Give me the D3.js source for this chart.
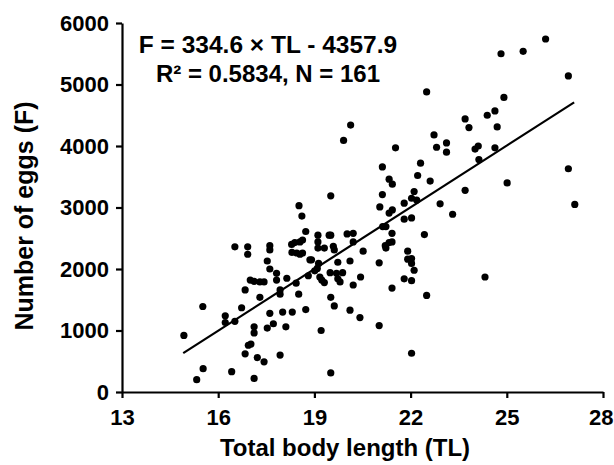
<!DOCTYPE html>
<html>
<head>
<meta charset="utf-8">
<script src="https://cdn.jsdelivr.net/npm/d3@7"></script>
<style>
  html, body { margin: 0; padding: 0; background: #fff; }
  svg text { font-family: "Liberation Sans", Arial, sans-serif; font-weight: bold; fill: #000; }
</style>
</head>
<body>
<svg id="chart" width="614" height="465"></svg>
<script>
// Total body length (TL) of each female
const tl = [
  20.13,19.91,19.51,18.52,
  26.21,25.51,24.82,26.92,22.50,24.91,23.70,23.82,24.39,24.63,24.70,22.73,22.81,23.12,23.12,21.53,
  24.01,24.11,24.63,24.13,26.92,21.12,22.31,21.33,21.43,22.22,22.61,25.01,21.12,22.11,23.70,22.03,
  22.19,21.80,22.92,21.04,21.43,27.12,
  23.31,21.33,21.80,22.03,21.13,21.23,21.42,22.43,21.21,21.23,21.33,21.42,20.52,21.91,21.91,22.03,
  22.03,22.11,21.02,20.44,21.80,22.03,24.32,21.42,22.50,20.42,21.02,22.03,
  18.61,18.73,19.11,19.46,19.51,20.02,20.21,16.52,16.92,16.92,17.61,17.61,18.29,18.39,18.55,18.63,
  18.30,18.45,18.55,18.63,19.11,19.11,19.31,19.59,19.62,20.21,17.53,18.86,18.91,19.13,19.73,20.11,
  17.61,17.82,17.82,18.14,17.00,17.12,17.30,17.43,18.43,18.81,19.01,19.09,19.17,19.23,19.31,19.49,
  19.69,19.88,19.73,19.80,20.21,16.84,17.93,17.93,17.30,18.51,19.51,19.62,20.11,15.52,16.73,16.22,
  16.22,16.52,17.61,18.01,18.31,18.73,17.53,17.72,18.11,17.12,17.12,19.21,14.93,16.94,17.02,16.84,
  17.22,17.43,17.93,15.53,16.42,15.33,17.12,19.51
];
// Number of eggs (F) of each female
const eggs = [
  4340,4090,3190,3030,
  5740,5540,5500,5140,4880,4790,4440,4300,4500,4570,4310,4180,3980,4050,3900,3970,
  3950,4000,3970,3780,3630,3660,3720,3460,3380,3520,3430,3400,3210,3260,3280,3150,
  3120,3070,3060,3010,2960,3050,
  2890,2910,2810,2830,2690,2690,2580,2560,2380,2340,2430,2440,2290,2290,2160,2170,
  2090,1980,2100,1870,1840,1810,1870,1690,1570,1210,1080,630,
  2860,2610,2550,2550,2550,2570,2580,2360,2360,2240,2380,2310,2400,2430,2440,2470,
  2270,2260,2240,2260,2440,2340,2340,2370,2310,2440,2130,2150,2150,2090,2110,2130,
  2000,1930,1820,1850,1820,1800,1790,1790,1770,1890,1970,2010,1870,1820,1780,1940,
  1930,1940,1840,1790,1740,1660,1660,1590,1540,1590,1540,1400,1330,1390,1370,1240,
  1130,1150,1280,1300,1300,1340,1040,1110,1060,1060,960,1000,920,760,780,620,
  560,490,600,380,330,200,220,310
];
const xTicks = [13, 16, 19, 22, 25, 28];
const yTicks = [0, 1000, 2000, 3000, 4000, 5000, 6000];
const slope = 334.6, intercept = -4357.9;
const fitRange = [14.91, 27.1];
const eqLine1 = "F = 334.6 \u00D7 TL - 4357.9";
const eqLine2 = "R\u00B2 = 0.5834, N = 161";
const xTitle = "Total body length (TL)";
const yTitle = "Number of eggs (F)";

const svg = d3.select("#chart");
const x = d3.scaleLinear().domain([13, 28]).range([122, 603]);
const y = d3.scaleLinear().domain([0, 6000]).range([392, 23]);

const xAxis = svg.append("g").attr("transform", "translate(0,392)")
  .call(d3.axisBottom(x).tickValues(xTicks).tickSize(6).tickSizeOuter(0).tickPadding(11).tickFormat(d3.format("d")));
const yAxis = svg.append("g").attr("transform", "translate(122,0)")
  .call(d3.axisLeft(y).tickValues(yTicks).tickSize(6).tickSizeOuter(0).tickPadding(7).tickFormat(d3.format("d")));
[xAxis, yAxis].forEach(g => {
  g.select(".domain").attr("stroke", "#000").attr("stroke-width", 2.2);
  g.selectAll(".tick line").attr("stroke", "#000").attr("stroke-width", 2.2);
  g.selectAll(".tick text").style("font-size", "22px").style("font-family", "Liberation Sans, Arial, sans-serif").style("font-weight", "bold").attr("fill", "#000");
});
// keep the last x label inside the picture, as in the reference
xAxis.selectAll(".tick text").filter(d => d === 28).attr("text-anchor", "end").attr("dx", "0.45em");

// regression line
svg.append("line")
  .attr("x1", x(fitRange[0])).attr("y1", y(slope * fitRange[0] + intercept))
  .attr("x2", x(fitRange[1])).attr("y2", y(slope * fitRange[1] + intercept))
  .attr("stroke", "#000").attr("stroke-width", 2.2);

// points
svg.append("g").selectAll("circle")
  .data(tl.map((t, i) => [t, eggs[i]]))
  .join("circle")
  .attr("cx", d => x(d[0])).attr("cy", d => y(d[1]))
  .attr("r", 3.6).attr("fill", "#000");

// equation text
svg.append("text").attr("x", 268).attr("y", 53).attr("text-anchor", "middle")
  .style("font-size", "24.5px").text(eqLine1);
svg.append("text").attr("x", 268).attr("y", 82).attr("text-anchor", "middle")
  .style("font-size", "24px").text(eqLine2);

// axis titles
svg.append("text").attr("x", 345).attr("y", 456).attr("text-anchor", "middle")
  .style("font-size", "24px").text(xTitle);
svg.append("text").attr("transform", "translate(33,216) rotate(-90)").attr("text-anchor", "middle")
  .style("font-size", "25px").text(yTitle);
</script>
</body>
</html>
